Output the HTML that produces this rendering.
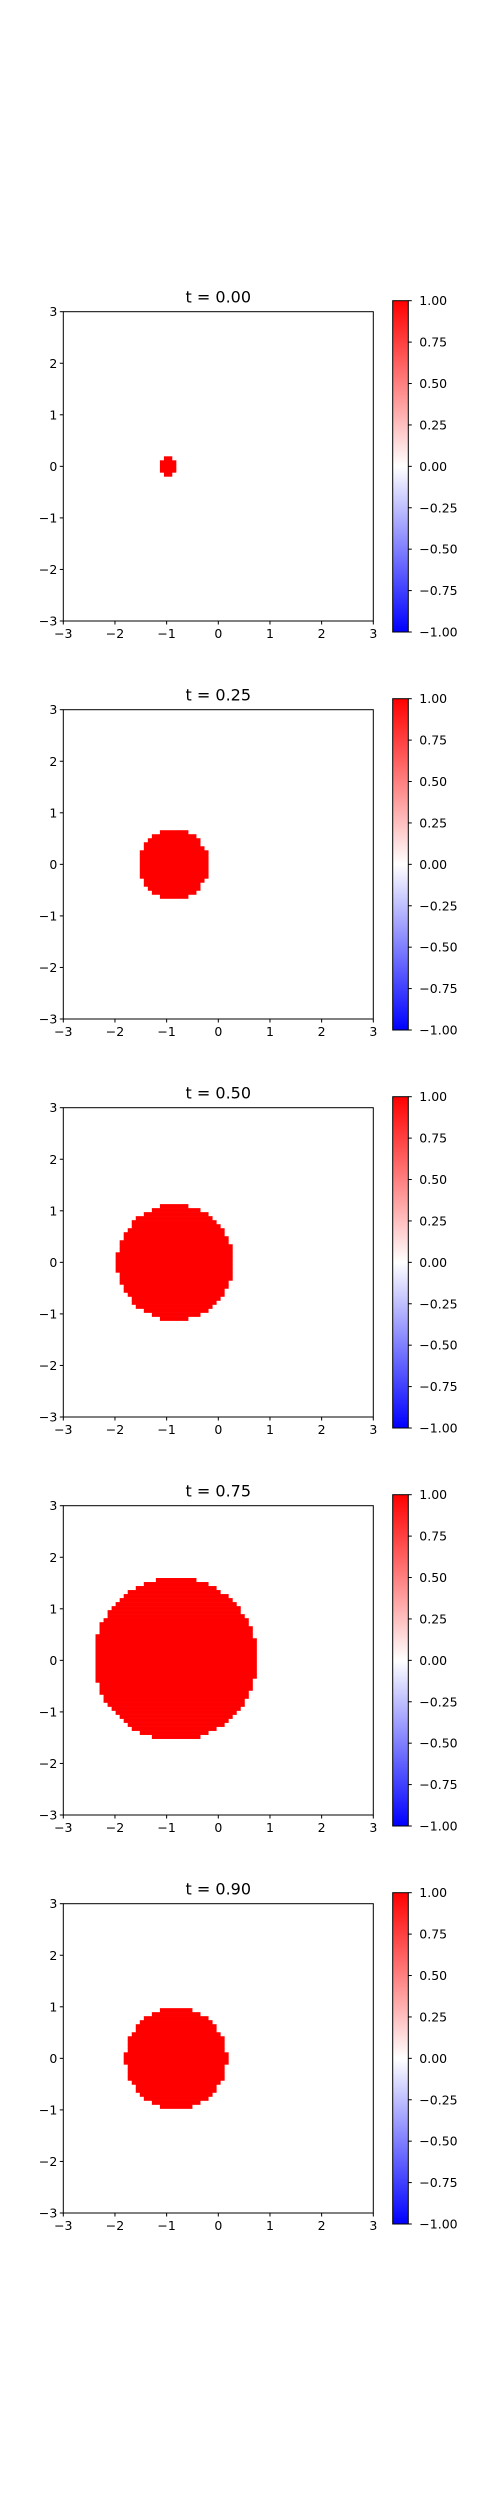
<!DOCTYPE html>
<html><head><meta charset="utf-8"><style>
html,body{margin:0;padding:0;background:#fff}
svg{display:block}
text{font-family:"DejaVu Sans","Liberation Sans",sans-serif;fill:#000}
</style></head><body>
<svg id="fig" width="500" height="2500" viewBox="0 0 500 2500">
<defs><linearGradient id="bwr" x1="0" y1="1" x2="0" y2="0">
<stop offset="0" stop-color="#0000ff"/><stop offset="0.5" stop-color="#ffffff"/><stop offset="1" stop-color="#ff0000"/>
</linearGradient></defs>
</svg>
<script>
const times = ["0.00","0.25","0.50","0.75","0.90"];
const radii = [0.17, 0.68, 1.12, 1.58, 0.98];
const centersX = [-0.97, -0.87, -0.84, -0.83, -0.82];
const centersY = [0.0, 0.0, 0.0, 0.03, 0.0];
const axisTicks = [-3,-2,-1,0,1,2,3];
const cbarTicks = [1.00,0.75,0.50,0.25,0.00,-0.25,-0.50,-0.75,-1.00];
const gridN = 77;

const NS="http://www.w3.org/2000/svg";
const svg=document.getElementById('fig');
function mk(tag,attrs,parent){const e=document.createElementNS(NS,tag);for(const k in attrs)e.setAttribute(k,attrs[k]);(parent||svg).appendChild(e);return e;}
const fmt=v=>(v<0?'\u2212':'')+Math.abs(v).toFixed(2);
const fmtI=v=>(v<0?'\u2212':'')+Math.abs(v);

times.forEach((t,k)=>{
  const off=398*k;
  const L=63.3,R=373.3,T=311.7+off,B=621+off;
  const sx=v=>L+(v+3)/6*(R-L);
  const sy=v=>B-(v+3)/6*(B-T);
  const g=mk('g',{});
  
  
  const title=mk('text',{x:(L+R)/2,y:T-9,'text-anchor':'middle','font-size':'16'},g);
  title.textContent='t = '+t;
  
  
  const heat=mk('g',{},g);
  
  
  const d=6/gridN;
  for(let j=0;j<gridN;j++){
    const y=-3+(j+0.5)*d;
    let start=-1;
    for(let i=0;i<=gridN;i++){
      const x=-3+(i+0.5)*d;
      const inside=i<gridN && Math.hypot(x-centersX[k],y-centersY[k])<radii[k];
      if(inside&&start<0)start=i;
      if(!inside&&start>=0){
        const x0=sx(-3+start*d),x1=sx(-3+i*d);
        const y0=sy(-3+(j+1)*d),y1=sy(-3+j*d);
        const r=mk('rect',{x:x0,y:y0,width:x1-x0+0.3,height:y1-y0+0.3,fill:'#ff0000'},heat);
        
        
        start=-1;
      }
    }
  }
  const frame=mk('rect',{x:L,y:T,width:R-L,height:B-T,fill:'none',stroke:'#000','stroke-width':1},g);
  
  
  axisTicks.forEach(v=>{
    mk('line',{x1:sx(v),x2:sx(v),y1:B,y2:B+3.5,stroke:'#000'},g);
    const tx=mk('text',{x:sx(v),y:B+17,'text-anchor':'middle','font-size':'12.5'},g);
    tx.textContent=fmtI(v);
    
    
    mk('line',{x1:L-3.5,x2:L,y1:sy(v),y2:sy(v),stroke:'#000'},g);
    const ty=mk('text',{x:L-6,y:sy(v)+4.5,'text-anchor':'end','font-size':'12.5'},g);
    ty.textContent=fmtI(v);
    
    
  });
  const cT=300.7+off,cB=632+off,cL=392.7,cR=408.3;
  const cb=mk('rect',{x:cL,y:cT,width:cR-cL,height:cB-cT,fill:'url(#bwr)',stroke:'#000','stroke-width':1},g);
  
  
  cbarTicks.forEach(v=>{
    const y=cB-(v+1)/2*(cB-cT);
    mk('line',{x1:cR,x2:cR+3.5,y1:y,y2:y,stroke:'#000'},g);
    const tl=mk('text',{x:cR+11,y:y+4.5,'font-size':'12.5'},g);
    tl.textContent=fmt(v);
    
    
  });
});
</script>
</body></html>
